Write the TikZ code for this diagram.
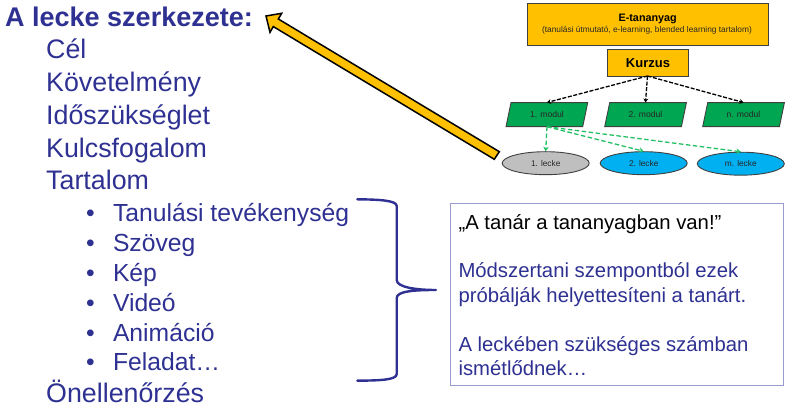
\documentclass[tikz,border=0pt]{standalone}
\usepackage{fontspec}
\setmainfont{Liberation Sans}
\usetikzlibrary{arrows.meta,shapes.geometric}
\definecolor{navy}{HTML}{2E3192}
\definecolor{amber}{HTML}{FFC000}
\definecolor{grn}{HTML}{00A651}
\definecolor{lgrn}{HTML}{22C064}
\definecolor{sky}{HTML}{00B0F0}
\definecolor{edge}{HTML}{404040}
\definecolor{lav}{HTML}{9A9ACF}
\newcommand{\fs}[1]{\fontsize{#1}{#1}\selectfont}
\tikzset{
 item/.style={anchor=base west,inner sep=0pt,text=navy,font=\fs{26.8}},
 sub/.style={anchor=base west,inner sep=0pt,text=navy,font=\fs{24.7}},
 bul/.style={anchor=base,inner sep=0pt,text=navy,font=\fs{24.7}},
 yellowbox/.style={draw=edge,line width=0.9pt,fill=amber,inner sep=0pt,minimum width=#1,anchor=north west},
 modlabel/.style={inner sep=0pt,minimum width=75pt,minimum height=24pt,text=black!85,font=\fs{8.6}},
 para/.style={draw=edge,line width=0.9pt,fill=grn},
 oval/.style={ellipse,draw=edge,line width=0.9pt,inner sep=0pt,minimum width=87pt,minimum height=23pt,text=black!85,font=\fs{8.3}},
 blackdash/.style={draw=black,line width=1.3pt,dash pattern=on 4pt off 1.6pt,-{Stealth[length=4pt,width=5pt]}},
 greendash/.style={draw=lgrn,line width=1.3pt,dash pattern=on 4.5pt off 2.5pt,-{Stealth[length=4.5pt,width=5.5pt]}},
 bigtext/.style={anchor=base west,inner sep=0pt,font=\fs{20.3}},
}
\begin{document}
\begin{tikzpicture}[x=1pt,y=-1pt]
\useasboundingbox (0,0) rectangle (801,411);
% left text
\node[anchor=base west,inner sep=0pt,text=navy,font=\fs{27}\bfseries] (title) at (5,27) {A lecke szerkezete:};
\node[item] (i1) at (46,58.8) {Cél};
\node[item] (i2) at (46,92) {Követelmény};
\node[item] (i3) at (46,124.5) {Időszükséglet};
\node[item] (i4) at (46,157.2) {Kulcsfogalom};
\node[item] (i5) at (46,190) {Tartalom};
\node[item] (i6) at (46,403) {Önellenőrzés};
\foreach \n/\t/\y in {a/Tanulási tevékenység/221.5,b/Szöveg/251.5,c/Kép/281.5,d/Videó/311.5,e/Animáció/341.5,f/Feladat…/371}{
  \node[sub] (s\n) at (112.8,\y) {\t};
  \node[bul] at (90.5,\y) {•};
}
% yellow arrow
\coordinate (tipA) at (266,16);
\coordinate (tailA) at (496.8,155.5);
\filldraw[draw=black,line width=1.5pt,fill=amber,line join=miter]
  (tipA) -- (281.7,13.3) -- (278.3,19.0) -- (499.3,151.7) -- (494.3,159.3) -- (273.3,26.6) -- (270,32.3) -- cycle;
% boxes
\node[yellowbox=240.7pt,minimum height=42.3pt,align=center] (E) at (527.3,2.7) {};
\node[inner sep=0pt,font=\fs{10.8}\bfseries] (Et) at (647.7,19) {E-tananyag};
\node[inner sep=0pt,font=\fs{8.35},text=black!85] (Es) at (647,30) {(tanulási útmutató, e-learning, blended learning tartalom)};
\node[yellowbox=81.6pt,minimum height=26.7pt,font=\fs{13}\bfseries] (K) at (606.7,49.3) {Kurzus};
% modules
\foreach \n/\x in {1/506,2/604.7,3/702.7}{
  \filldraw[para] (\x,126.7) -- (\x+5,102.7) -- (\x+81.7,102.7) -- (\x+76.7,126.7) -- cycle;
}
\node[modlabel] (m1) at (547,114.7) {1. modul};
\node[modlabel] (m2) at (645.5,114.7) {2. modul};
\node[modlabel] (m3) at (743.5,114.7) {n. modul};
% ovals
\node[oval,fill=black!25] (l1) at (545.7,163.2) {1. lecke};
\node[oval,fill=sky] (l2) at (643.7,163.2) {2. lecke};
\node[oval,fill=sky] (l3) at (740.8,163.7) {m. lecke};
% connectors
\coordinate (ks) at (647.5,76);
\draw[blackdash] (ks) -- (m1.north);
\draw[blackdash] (ks) -- (m2.north);
\draw[blackdash] (ks) -- (m3.north);
\coordinate (ms) at (547,126.7);
\draw[greendash] (ms) -- (l1.north);
\draw[greendash] (ms) -- (l2.north);
\draw[greendash] (ms) -- (l3.north);
% brace
\coordinate (bt) at (357.3,199.3);
\coordinate (bb) at (357.3,380.7);
\coordinate (bp) at (436,290);
\draw[navy,line width=2.4pt,line cap=round,line join=round]
  (bt) .. controls (380,199.5) and (396.7,200.5) .. (396.7,206)
  -- (396.7,280) .. controls (396.7,287) and (415,290) .. (bp)
  .. controls (415,290) and (396.7,291) .. (396.7,298)
  -- (396.7,374) .. controls (396.7,380) and (380,380.5) .. (bb);
% note box
\node[draw=lav,line width=1pt,fill=white,minimum width=333pt,minimum height=181.7pt,inner sep=0pt,anchor=north west] (note) at (450.3,203) {};
\node[bigtext] (n1) at (458.3,229.5) {„A tanár a tananyagban van!”};
\node[bigtext,text=navy] (n2) at (458.3,277.5) {Módszertani szempontból ezek};
\node[bigtext,text=navy] (n3) at (458.3,303) {próbálják helyettesíteni a tanárt.};
\node[bigtext,text=navy] (n4) at (458.3,351.5) {A leckében szükséges számban};
\node[bigtext,text=navy] (n5) at (458.3,376) {ismétlődnek…};
\end{tikzpicture}
\end{document}
